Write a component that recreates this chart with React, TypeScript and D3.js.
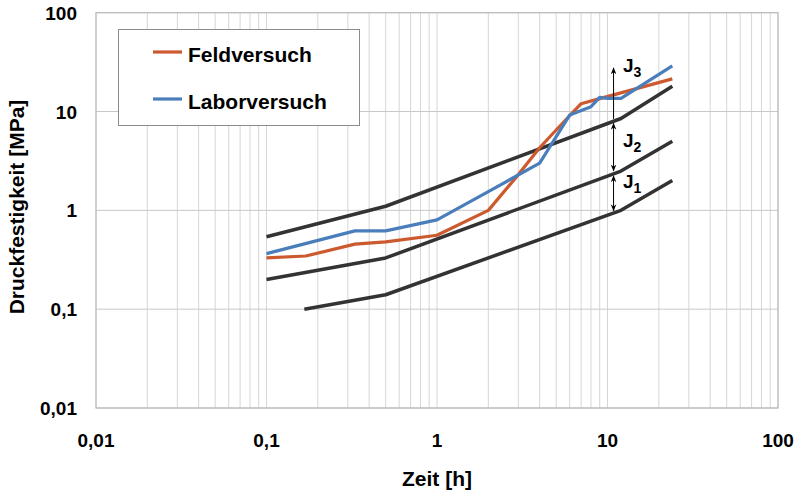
import React from "react";
import * as d3 from "d3";

// ---- data ----
const xTickValues = [0.01, 0.1, 1, 10, 100];
const xTickLabels = ["0,01", "0,1", "1", "10", "100"];
const yTickValues = [0.01, 0.1, 1, 10, 100];
const yTickLabels = ["0,01", "0,1", "1", "10", "100"];

// boundary curves (time h, strength MPa)
const j1LowerTime = [1 / 6, 0.5, 12, 24];
const j1LowerValue = [0.1, 0.14, 1, 2];
const j1j2Time = [0.1, 0.5, 12, 24];
const j1j2Value = [0.2, 0.33, 2.5, 5];
const j2j3Time = [0.1, 0.5, 12, 24];
const j2j3Value = [0.54, 1.1, 8.5, 18];

const feldTime = [0.1, 0.17, 0.33, 0.5, 1, 2, 3, 4, 5, 7, 9, 24];
const feldValue = [0.33, 0.345, 0.455, 0.48, 0.56, 1.0, 2.3, 4.3, 6.5, 12, 13.5, 21.4];
const laborTime = [0.1, 0.33, 0.5, 1, 2, 4, 6, 8, 9, 10, 12, 24];
const laborValue = [0.365, 0.62, 0.62, 0.8, 1.55, 3.0, 9.2, 11.2, 13.9, 13.6, 13.6, 29];

const seriesNames = ["Feldversuch", "Laborversuch"];
const jLabels = ["3", "2", "1"];
const jLabelValues = [25, 4.4, 1.69];
const arrowTime = 11;
const j3ArrowTop = 27.6;

const W = 800;
const H = 491;
const FONT = "'Liberation Sans', Arial, sans-serif";

const x = d3.scaleLog().domain([0.01, 100]).range([96, 778]);
const y = d3.scaleLog().domain([0.01, 100]).range([408, 12.7]);

const zip = (t: number[], v: number[]) => t.map((d, i) => [d, v[i]] as [number, number]);
const line = d3
  .line<[number, number]>()
  .x((d) => x(d[0]))
  .y((d) => y(d[1]));

function interp(t: number[], v: number[], at: number) {
  for (let i = 0; i < t.length - 1; i++) {
    if (at >= t[i] && at <= t[i + 1]) {
      const f = (Math.log(at) - Math.log(t[i])) / (Math.log(t[i + 1]) - Math.log(t[i]));
      return Math.exp(Math.log(v[i]) + f * (Math.log(v[i + 1]) - Math.log(v[i])));
    }
  }
  return v[v.length - 1];
}

export default function App() {
  const gridX = x.ticks();
  const ax = x(arrowTime) - 1;
  const yTop = y(interp(j2j3Time, j2j3Value, arrowTime));
  const yMid = y(interp(j1j2Time, j1j2Value, arrowTime));
  const yBot = y(interp(j1LowerTime, j1LowerValue, arrowTime));
  const labelX = x(12) + 2;

  const black = "#333333";
  return (
    <svg
      width={W}
      height={H}
      style={{ position: "absolute", left: 0, top: 0, background: "#fff" }}
      fontFamily={FONT}
    >
      <defs>
        <marker id="ah" viewBox="0 0 10 10" refX="9" refY="5" markerWidth="7" markerHeight="7" orient="auto-start-reverse" markerUnits="userSpaceOnUse">
          <path d="M0,1 L10,5 L0,9 L3,5 Z" fill="#000" />
        </marker>
      </defs>
      <rect x={0} y={0} width={W} height={H} fill="#fff" />
      {/* grid */}
      {gridX.map((t, i) => (
        <line key={"gx" + i} x1={x(t)} x2={x(t)} y1={y(100)} y2={y(0.01)} stroke="#d6d6d6" strokeWidth={1} />
      ))}
      {yTickValues.map((t, i) => (
        <line key={"gy" + i} x1={x(0.01)} x2={x(100)} y1={y(t)} y2={y(t)} stroke="#c8c8c8" strokeWidth={1} />
      ))}
      <rect x={x(0.01)} y={y(100)} width={x(100) - x(0.01)} height={y(0.01) - y(100)} fill="none" stroke="#bdbdbd" strokeWidth={1.2} />

      {/* boundary lines */}
      {[zip(j1LowerTime, j1LowerValue), zip(j1j2Time, j1j2Value), zip(j2j3Time, j2j3Value)].map((d, i) => (
        <path key={"b" + i} d={line(d) || ""} fill="none" stroke={black} strokeWidth={3.5} strokeLinejoin="round" />
      ))}
      <path d={line(zip(feldTime, feldValue)) || ""} fill="none" stroke="#cc5a2e" strokeWidth={3.2} strokeLinejoin="round" />
      <path d={line(zip(laborTime, laborValue)) || ""} fill="none" stroke="#4a7ebb" strokeWidth={3.2} strokeLinejoin="round" />

      {/* arrows */}
      <line x1={ax} x2={ax} y1={yTop - 2} y2={y(j3ArrowTop)} stroke="#000" strokeWidth={1} markerEnd="url(#ah)" />
      <line x1={ax} x2={ax} y1={yTop + 2.5} y2={yMid - 2.5} stroke="#000" strokeWidth={1} markerStart="url(#ah)" markerEnd="url(#ah)" />
      <line x1={ax} x2={ax} y1={yMid + 2.5} y2={yBot - 2} stroke="#000" strokeWidth={1} markerStart="url(#ah)" markerEnd="url(#ah)" />
      {jLabels.map((s, i) => (
        <text key={"j" + i} x={labelX} y={y(jLabelValues[i])} fontSize={19} fontWeight="bold" fill="#000">
          J<tspan fontSize={14} dy={5}>{s}</tspan>
        </text>
      ))}

      {/* ticks */}
      {xTickValues.map((t, i) => (
        <text key={"xt" + i} x={x(t)} y={447} textAnchor="middle" fontSize={19} fontWeight="bold" fill="#000">
          {xTickLabels[i]}
        </text>
      ))}
      {yTickValues.map((t, i) => (
        <text key={"yt" + i} x={77} y={y(t) + 7} textAnchor="end" fontSize={19} fontWeight="bold" fill="#000">
          {yTickLabels[i]}
        </text>
      ))}
      <text x={437} y={486} textAnchor="middle" fontSize={21} fontWeight="bold" fill="#000">
        Zeit [h]
      </text>
      <text transform="translate(24,207) rotate(-90)" textAnchor="middle" fontSize={21} fontWeight="bold" fill="#000">
        Druckfestigkeit [MPa]
      </text>

      {/* legend */}
      <rect x={118.5} y={29.5} width={241} height={96} fill="#fff" stroke="#8c8c8c" strokeWidth={1} />
      {seriesNames.map((n, i) => (
        <g key={"lg" + i}>
          <line x1={153} x2={182} y1={52 + i * 47} y2={52 + i * 47} stroke={i === 0 ? "#cc5a2e" : "#4a7ebb"} strokeWidth={3.2} />
          <text x={188} y={61.5 + i * 47.5} fontSize={21} fontWeight="bold" fill="#000">
            {n}
          </text>
        </g>
      ))}
    </svg>
  );
}
